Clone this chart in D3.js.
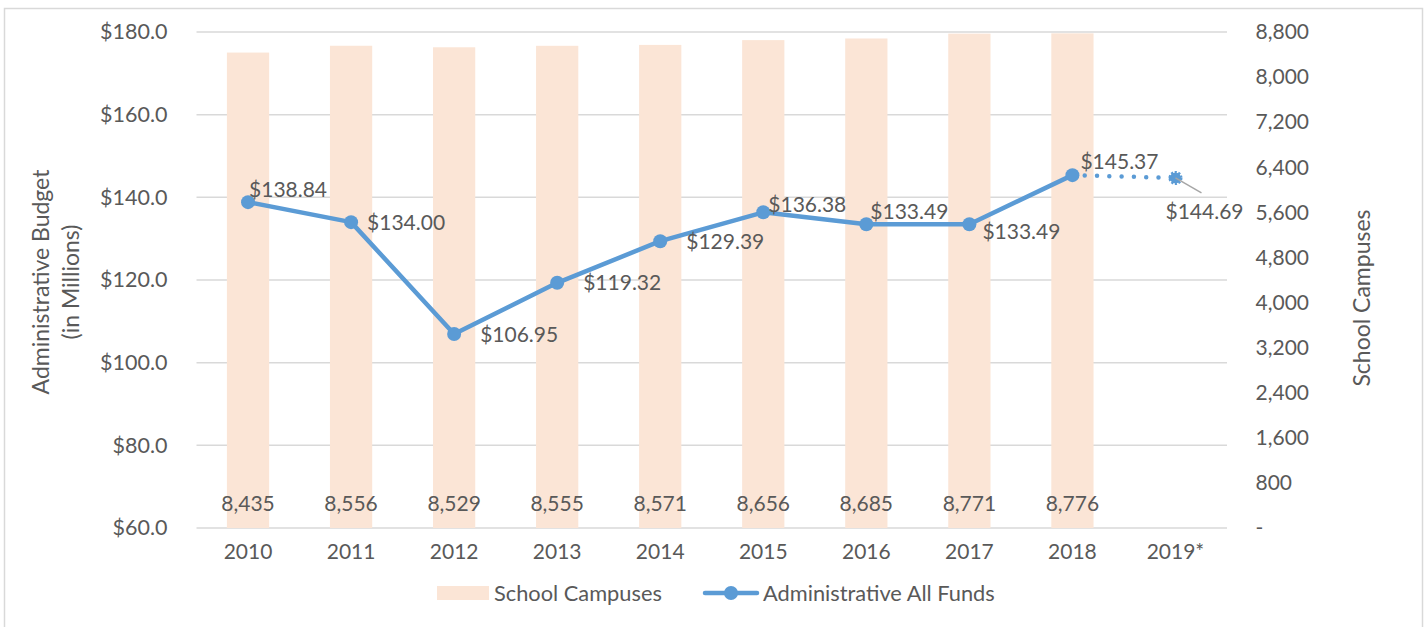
<!DOCTYPE html>
<html>
<head>
<meta charset="utf-8">
<script src="https://d3js.org/d3.v7.min.js"></script>
<style>
  body { margin: 0; background: #fff; }
  svg text { font-family: Lato, "Open Sans", sans-serif; fill: #595959; }
</style>
</head>
<body>
<div id="chart"></div>
<script>
// chart data
const years = ["2010", "2011", "2012", "2013", "2014", "2015", "2016", "2017", "2018", "2019*"];
const campuses = [8435, 8556, 8529, 8555, 8571, 8656, 8685, 8771, 8776, null];
const budget = [138.84, 134.00, 106.95, 119.32, 129.39, 136.38, 133.49, 133.49, 145.37, 144.69];
const leftTicks = [60, 80, 100, 120, 140, 160, 180];
const rightTicks = [0, 800, 1600, 2400, 3200, 4000, 4800, 5600, 6400, 7200, 8000, 8800];

// label placement for each budget point: [dx, dy] from the point
const labelPos = [[1, -12], [16, 1], [26, 1], [26, 0], [26, 0], [5, -8], [4, -13], [13, 7], [8, -13], [-10, 34]];

const W = 1428, H = 627;
const margin = {top: 32, right: 201, bottom: 99, left: 196.5};
const fs = 21;

const svg = d3.select("#chart").append("svg")
    .attr("width", W)
    .attr("height", H);

// outer frame
svg.append("rect")
    .attr("x", 4.5).attr("y", 8.5)
    .attr("width", 1418).attr("height", 640)
    .attr("fill", "none")
    .attr("stroke", "#d9d9d9")
    .attr("stroke-width", 1.5);

const x = d3.scaleBand()
    .domain(years)
    .range([margin.left, W - margin.right])
    .paddingInner(0.59)
    .paddingOuter(0.295);

const yL = d3.scaleLinear().domain([60, 180]).range([H - margin.bottom, margin.top]);
const yR = d3.scaleLinear().domain([0, 8800]).range([H - margin.bottom, margin.top]);

const cx = d => x(d) + x.bandwidth() / 2;

// gridlines
svg.append("g")
    .selectAll("line")
    .data(leftTicks)
    .join("line")
    .attr("x1", margin.left)
    .attr("x2", W - margin.right)
    .attr("y1", d => yL(d))
    .attr("y2", d => yL(d))
    .attr("stroke", "#d9d9d9")
    .attr("stroke-width", 1.5);

// bars
svg.append("g")
    .selectAll("rect")
    .data(years.filter((d, i) => campuses[i] != null))
    .join("rect")
    .attr("x", d => x(d))
    .attr("width", x.bandwidth())
    .attr("y", (d, i) => yR(campuses[i]))
    .attr("height", (d, i) => yR(0) - yR(campuses[i]))
    .attr("fill", "#fbe5d6");

// bar labels
svg.append("g")
    .selectAll("text")
    .data(years.filter((d, i) => campuses[i] != null))
    .join("text")
    .attr("x", d => cx(d))
    .attr("y", yR(0) - 24)
    .attr("dy", "0.35em")
    .attr("text-anchor", "middle")
    .attr("font-size", fs)
    .text((d, i) => d3.format(",")(campuses[i]));

// left axis
const leftAxis = svg.append("g")
    .attr("transform", `translate(${margin.left},0)`)
    .call(d3.axisLeft(yL).tickValues(leftTicks).tickSize(0).tickPadding(29).tickFormat(d => "$" + d3.format(".1f")(d)));
leftAxis.select(".domain").remove();
leftAxis.selectAll("text").attr("font-size", fs + 0.5).attr("fill", "#595959");

// right axis
const rightAxis = svg.append("g")
    .attr("transform", `translate(${W - margin.right},0)`)
    .call(d3.axisRight(yR).tickValues(rightTicks).tickSize(0).tickPadding(28.5).tickFormat(d => d === 0 ? "-" : d3.format(",")(d)));
rightAxis.select(".domain").remove();
rightAxis.selectAll("text").attr("font-size", fs).attr("fill", "#595959");

// bottom axis
const bottomAxis = svg.append("g")
    .attr("transform", `translate(0,${H - margin.bottom})`)
    .call(d3.axisBottom(x).tickSize(0).tickPadding(16));
bottomAxis.select(".domain").remove();
bottomAxis.selectAll("text").attr("font-size", fs).attr("fill", "#595959");

// axis titles
const midY = (margin.top + H - margin.bottom) / 2;
[["Administrative Budget", 41, midY + 2], ["(in Millions)", 71, midY + 2], ["School Campuses", 1362, midY + 18]].forEach(t => {
    svg.append("text")
        .attr("transform", `translate(${t[1]},${t[2]}) rotate(-90)`)
        .attr("text-anchor", "middle")
        .attr("dy", "0.35em")
        .attr("font-size", 23)
        .text(t[0]);
});

// budget line (solid through 2018, dotted for 2019 estimate)
const pts = years.map((d, i) => [cx(d), yL(budget[i])]);
const line = d3.line();
const blue = "#5b9bd5";

svg.append("path")
    .attr("d", line(pts.slice(0, 9)))
    .attr("fill", "none")
    .attr("stroke", blue)
    .attr("stroke-width", 4.5)
    .attr("stroke-linejoin", "round");

svg.append("path")
    .attr("d", line(pts.slice(8, 10)))
    .attr("fill", "none")
    .attr("stroke", blue)
    .attr("stroke-width", 4.5)
    .attr("stroke-linecap", "round")
    .attr("stroke-dasharray", "0,12.3");

svg.append("g")
    .selectAll("circle")
    .data(pts.slice(0, 9))
    .join("circle")
    .attr("cx", d => d[0])
    .attr("cy", d => d[1])
    .attr("r", 7)
    .attr("fill", blue);

// 2019 marker, dotted edge
svg.append("circle")
    .attr("cx", pts[9][0])
    .attr("cy", pts[9][1])
    .attr("r", 5.5)
    .attr("fill", blue)
    .attr("stroke", blue)
    .attr("stroke-width", 3)
    .attr("stroke-dasharray", "2,1.5");

// leader line for 2019 label
svg.append("line")
    .attr("x1", pts[9][0])
    .attr("y1", pts[9][1])
    .attr("x2", pts[9][0] + 26)
    .attr("y2", pts[9][1] + 15)
    .attr("stroke", "#a6a6a6")
    .attr("stroke-width", 1.5);

// budget labels
svg.append("g")
    .selectAll("text")
    .data(pts)
    .join("text")
    .attr("x", (d, i) => d[0] + labelPos[i][0])
    .attr("y", (d, i) => d[1] + labelPos[i][1])
    .attr("dy", "0.35em")
    .attr("font-size", fs)
    .text((d, i) => "$" + d3.format(".2f")(budget[i]));

// legend
const lg = svg.append("g");
lg.append("rect")
    .attr("x", 437).attr("y", 586)
    .attr("width", 52).attr("height", 14)
    .attr("fill", "#fbe5d6");
lg.append("text")
    .attr("x", 494).attr("y", 593)
    .attr("dy", "0.35em")
    .attr("font-size", 21.8)
    .text("School Campuses");
lg.append("line")
    .attr("x1", 705).attr("x2", 757)
    .attr("y1", 593).attr("y2", 593)
    .attr("stroke", blue)
    .attr("stroke-width", 4.5)
    .attr("stroke-linecap", "round");
lg.append("circle")
    .attr("cx", 731).attr("cy", 593)
    .attr("r", 7)
    .attr("fill", blue);
lg.append("text")
    .attr("x", 763).attr("y", 593)
    .attr("dy", "0.35em")
    .attr("font-size", 21.8)
    .text("Administrative All Funds");
</script>
</body>
</html>
